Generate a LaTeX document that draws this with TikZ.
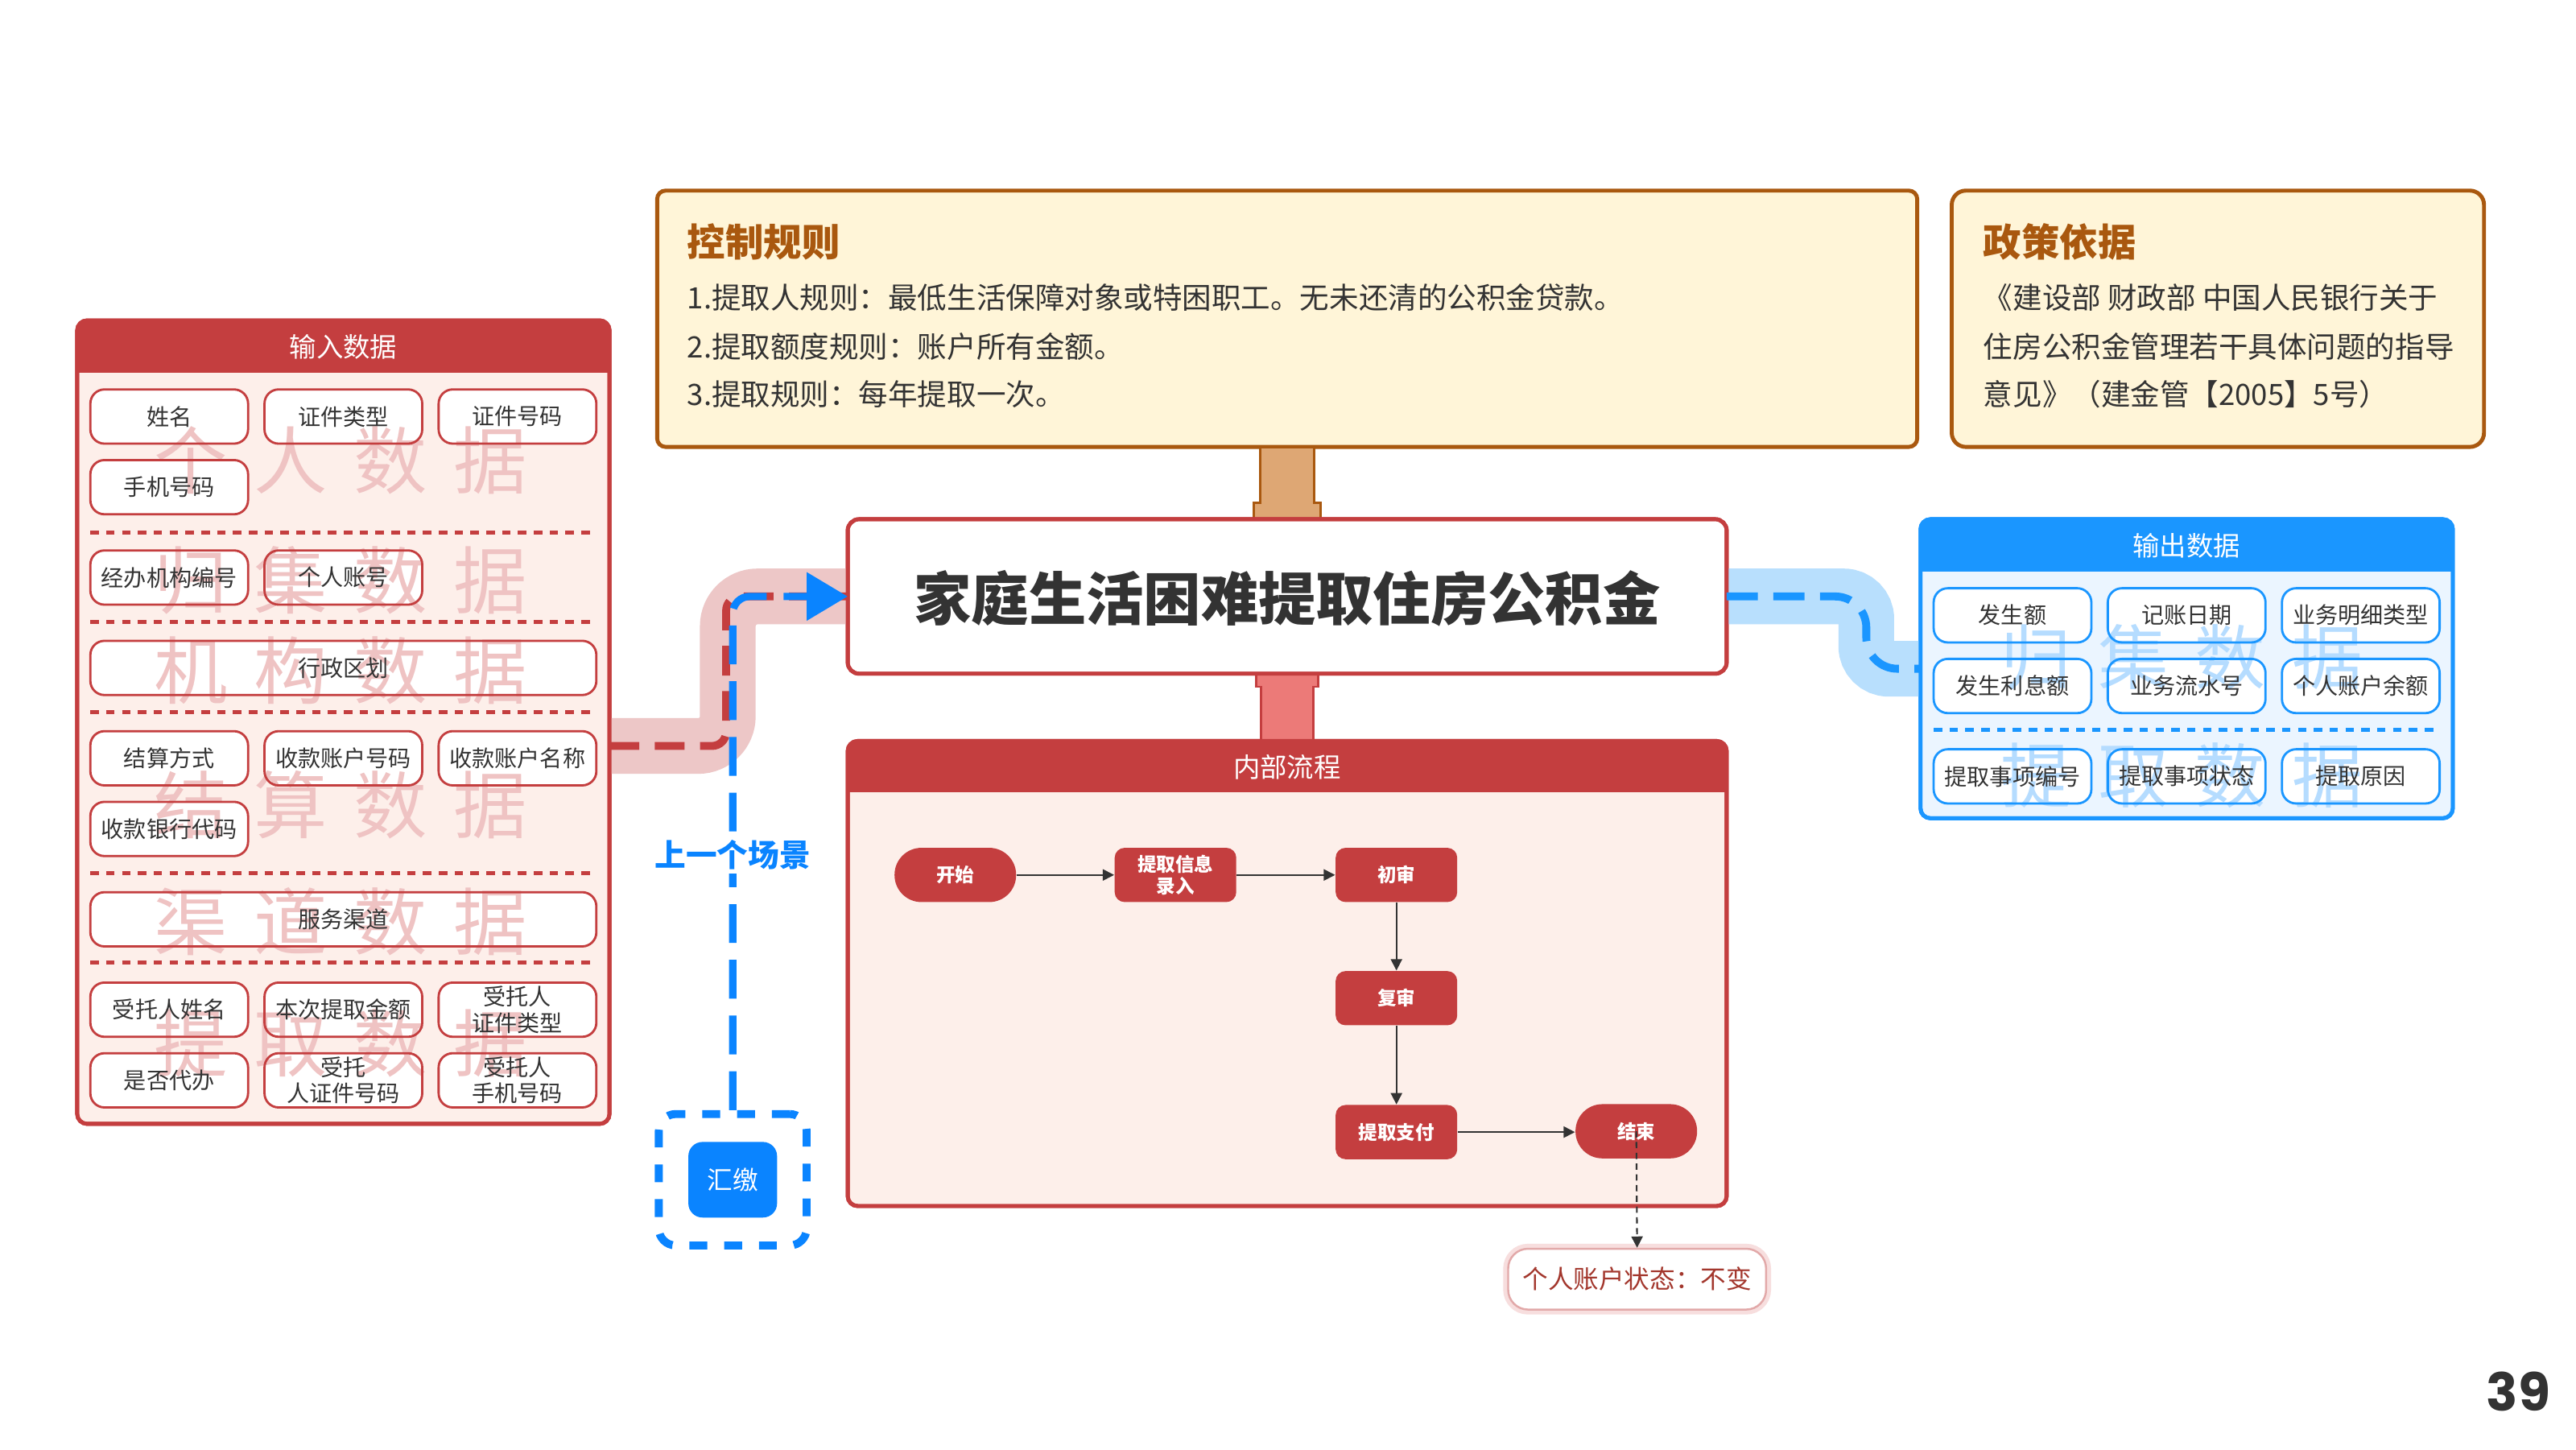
\documentclass[tikz,border=0pt]{standalone}
\usepackage{fontspec}
\setmainfont{Noto Sans CJK SC}
\newfontfamily\numfont{Poppins}
\usetikzlibrary{arrows.meta,calc}
\definecolor{myred}{HTML}{C43E3F}
\definecolor{redbody}{HTML}{FDEFEA}
\definecolor{redband}{HTML}{EDC7C7}
\definecolor{redwm}{HTML}{EFC3C3}
\definecolor{salmon}{HTML}{EC7A78}
\definecolor{mybrown}{HTML}{A9580F}
\definecolor{cream}{HTML}{FFF5D8}
\definecolor{mytan}{HTML}{DEA774}
\definecolor{bluehead}{HTML}{1A96FF}
\definecolor{bluebody}{HTML}{EBF5FF}
\definecolor{blueband}{HTML}{B8DFFD}
\definecolor{bluewm}{HTML}{B5DCFF}
\definecolor{bluedeep}{HTML}{0A84FF}
\definecolor{txt}{HTML}{333333}
\definecolor{notered}{HTML}{A3372D}
\definecolor{noteline}{HTML}{E2A9A9}
\definecolor{noteglow}{HTML}{F7DEDE}
\newcommand\pxu{0.02041cm}
\newcommand\bxfill[5]{\fill[white,rounded corners=5pt] ({#2-#4/2},{#3-16.5}) rectangle ({#2+#4/2},{#3+16.5});}
\newcommand\bxred[5]{\node[ibox,draw=myred,minimum width=#4*\pxu] (#1) at (#2,#3) {#5};}
\newcommand\bxblue[5]{\node[ibox,draw=bluehead,minimum width=#4*\pxu] (#1) at (#2,#3) {#5};}
\newcommand\inlist{%
\bx{i1}{103}{253.5}{96}{姓名}%
\bx{i2}{209}{253.5}{96}{证件类型}%
\bx{i3}{315}{253.5}{96}{证件号码}%
\bx{i4}{103}{296.5}{96}{手机号码}%
\bx{i5}{103}{351.5}{96}{经办机构编号}%
\bx{i6}{209}{351.5}{96}{个人账号}%
\bx{i7}{209}{406.5}{308}{行政区划}%
\bx{i8}{103}{461.5}{96}{结算方式}%
\bx{i9}{209}{461.5}{96}{收款账户号码}%
\bx{i10}{315}{461.5}{96}{收款账户名称}%
\bx{i11}{103}{504.5}{96}{收款银行代码}%
\bx{i12}{209}{559.5}{308}{服务渠道}%
\bx{i13}{103}{614.5}{96}{受托人姓名}%
\bx{i14}{209}{614.5}{96}{本次提取金额}%
\bx{i15}{315}{614.5}{96}{受托人\\证件类型}%
\bx{i16}{103}{657.5}{96}{是否代办}%
\bx{i17}{209}{657.5}{96}{受托\\人证件号码}%
\bx{i18}{315}{657.5}{96}{受托人\\手机号码}%
}
\newcommand\outlist{%
\bx{o1}{1225}{374.5}{96}{发生额}%
\bx{o2}{1331}{374.5}{96}{记账日期}%
\bx{o3}{1437}{374.5}{96}{业务明细类型}%
\bx{o4}{1225}{417.5}{96}{发生利息额}%
\bx{o5}{1331}{417.5}{96}{业务流水号}%
\bx{o6}{1437}{417.5}{96}{个人账户余额}%
\bx{o7}{1225}{472.5}{96}{提取事项编号}%
\bx{o8}{1331}{472.5}{96}{提取事项状态}%
\bx{o9}{1437}{472.5}{96}{提取原因}%
}
\newcommand\wmsp{\hspace{9.3pt}}
\begin{document}
\begin{tikzpicture}[x=0.02041cm, y=-0.02041cm,
  outer/.style={rectangle, rounded corners=3.5pt, line width=1.4pt, inner sep=0pt, outer sep=0pt},
  ibox/.style={rectangle, rounded corners=5pt, line width=0.8pt, minimum height=33*\pxu, inner sep=1pt, align=center, font=\fontsize{8}{9.3}\selectfont, text=txt},
  sepline/.style={line width=1.4pt, dash pattern=on 3pt off 2.6pt},
  wmleft/.style={text=redwm, font=\fontsize{26}{26}\selectfont, inner sep=0pt},
  wmright/.style={text=bluewm, font=\fontsize{25}{25}\selectfont, inner sep=0pt},
  headtxt/.style={text=white, font=\fontsize{9.5}{10}\selectfont, inner sep=0pt},
  ruletxt/.style={anchor=west, inner sep=0pt, text=txt, font=\fontsize{10.4}{11}\selectfont},
  ruletitle/.style={anchor=west, inner sep=0pt, text=mybrown, font=\bfseries\fontsize{13.5}{14}\selectfont},
  flow/.style={rectangle, fill=myred, text=white, rounded corners=3.5pt, minimum width=74*\pxu, minimum height=33*\pxu, inner sep=0pt, align=center, font=\bfseries\fontsize{6.7}{7.6}\selectfont},
  stadium/.style={flow, rounded corners=9.5pt},
  farrow/.style={-{Triangle[length=4pt,width=4pt]}, line width=0.5pt, draw=txt},
]
\useasboundingbox (0,0) rectangle (1568,882);
\fill[white] (0,0) rectangle (1568,882);

% ---------- main nodes (shapes) ----------
\node[outer, fill=cream, draw=mybrown, minimum width=767*\pxu, minimum height=156*\pxu, rounded corners=3pt] (ctrl) at (783.5,194) {};
\node[outer, fill=cream, draw=mybrown, minimum width=324*\pxu, minimum height=156*\pxu, rounded corners=5pt] (pol) at (1350,194) {};

% connectors to title box
\draw[fill=mytan, draw=mybrown, line width=0.8pt]
  ($(ctrl.south)+(-16.5,0)$) -- ($(ctrl.south)+(16.5,0)$) -- ($(ctrl.south)+(16.5,34)$) -- ($(ctrl.south)+(20.5,34)$)
  -- ($(ctrl.south)+(20.5,44)$) -- ($(ctrl.south)+(-20.5,44)$) -- ($(ctrl.south)+(-20.5,34)$) -- ($(ctrl.south)+(-16.5,34)$) -- cycle;

% bands
\coordinate (lstart) at (371,454);
\node[outer, fill=white, draw=myred, minimum width=535*\pxu, minimum height=94*\pxu, rounded corners=4pt] (title) at (783.5,363) {};
\node[outer, fill=redbody, draw=myred, minimum width=535*\pxu, minimum height=283*\pxu] (proc) at (783.5,592.5) {};
\node[outer, fill=redbody, draw=myred, minimum width=324*\pxu, minimum height=489*\pxu] (inb) at (209,439.5) {};
\node[outer, fill=bluebody, draw=bluehead, minimum width=324*\pxu, minimum height=182*\pxu] (outb) at (1331,407) {};

\draw[redband, line width=19.7pt, rounded corners=10.5pt] (lstart) -- (443,454) -- (443,363) -- (title.west);
\draw[blueband, line width=19.7pt, rounded corners=8pt] (title.east) -- (1136,363) -- (1136,407) -- (outb.west);

% salmon connector
\draw[fill=salmon, draw=myred, line width=0.8pt]
  ($(title.south)+(-19,0)$) -- ($(title.south)+(19,0)$) -- ($(title.south)+(19,8)$) -- ($(title.south)+(16,8)$)
  -- ($(proc.north)+(16,0)$) -- ($(proc.north)+(-16,0)$) -- ($(title.south)+(-16,8)$) -- ($(title.south)+(-19,8)$) -- cycle;

% redraw boxes over band ends
\draw[myred, line width=1.4pt, rounded corners=4pt] (title.north west) rectangle (title.south east);
\node[font=\bfseries\fontsize{20.3}{21}\selectfont, text=txt, inner sep=0pt] (titletxt) at (783.5,364) {家庭生活困难提取住房公积金};

% headers
\begin{scope}
\clip[rounded corners=3.5pt] (inb.north west) rectangle (inb.south east);
\fill[myred] (inb.north west) rectangle (371,227);
\end{scope}
\begin{scope}
\clip[rounded corners=3.5pt] (proc.north west) rectangle (proc.south east);
\fill[myred] (proc.north west) rectangle (1051,482);
\end{scope}
\begin{scope}
\clip[rounded corners=3.5pt] (outb.north west) rectangle (outb.south east);
\fill[bluehead] (outb.north west) rectangle (1493,348);
\end{scope}
\draw[myred, line width=1.4pt, rounded corners=3.5pt] (inb.north west) rectangle (inb.south east);
\draw[myred, line width=1.4pt, rounded corners=3.5pt] (proc.north west) rectangle (proc.south east);
\draw[bluehead, line width=1.4pt, rounded corners=3.5pt] (outb.north west) rectangle (outb.south east);
\node[headtxt] (inh) at (209,211) {输入数据};
\node[headtxt] (proch) at (783.5,467) {内部流程};
\node[headtxt] (outh) at (1331,332) {输出数据};

% ---------- input data ----------
\let\bx\bxfill \inlist
\node[wmleft] (w1) at (207.5,280) {个\wmsp 人\wmsp 数\wmsp 据};
\node[wmleft] (w2) at (207.5,353) {归\wmsp 集\wmsp 数\wmsp 据};
\node[wmleft] (w3) at (207.5,408) {机\wmsp 构\wmsp 数\wmsp 据};
\node[wmleft] (w4) at (207.5,490) {结\wmsp 算\wmsp 数\wmsp 据};
\node[wmleft] (w5) at (207.5,561) {渠\wmsp 道\wmsp 数\wmsp 据};
\node[wmleft] (w6) at (207.5,635) {提\wmsp 取\wmsp 数\wmsp 据};
\let\bx\bxred \inlist
\foreach \yy in {324,378.5,433.5,531.5,586} \draw[sepline, myred] (55,\yy) -- (363,\yy);

% ---------- output data ----------
\let\bx\bxfill \outlist
\node[wmright] (w7) at (1328,400) {归\wmsp 集\wmsp 数\wmsp 据};
\node[wmright] (w8) at (1328,472) {提\wmsp 取\wmsp 数\wmsp 据};
\let\bx\bxblue \outlist
\draw[sepline, bluehead] (1177,444) -- (1485,444);

% ---------- rules & policy text ----------
\node[ruletitle] (ct) at (418,147) {控制规则};
\node[ruletxt] (c1) at (418,181) {1.提取人规则：最低生活保障对象或特困职工。无未还清的公积金贷款。};
\node[ruletxt] (c2) at (418,211) {2.提取额度规则：账户所有金额。};
\node[ruletxt] (c3) at (418,240) {3.提取规则：每年提取一次。};
\node[ruletitle] (pt) at (1207,147) {政策依据};
\node[ruletxt] (p1) at (1207,181) {《建设部 财政部 中国人民银行关于};
\node[ruletxt] (p2) at (1207,211) {住房公积金管理若干具体问题的指导};
\node[ruletxt] (p3) at (1207,240) {意见》（建金管【2005】5号）};

% ---------- internal flow ----------
\node[stadium] (fs) at (581.5,532.5) {开始};
\node[flow] (f1) at (715.5,532.5) {提取信息\\录入};
\node[flow] (f2) at (850,532.5) {初审};
\node[flow] (f3) at (850,607.5) {复审};
\node[flow] (f4) at (850,689) {提取支付};
\node[stadium] (fe) at (996,688.5) {结束};
\draw[farrow] (fs) -- (f1);
\draw[farrow] (f1) -- (f2);
\draw[farrow] (f2) -- (f3);
\draw[farrow] (f3) -- (f4);
\draw[farrow] (f4.east) -- (f4.east -| fe.west);

\node[rectangle, rounded corners=7pt, fill=white, draw=noteline, line width=0.7pt,
  preaction={draw=noteglow, line width=3.5pt},
  minimum width=157*\pxu, minimum height=37*\pxu, inner sep=0pt, text=notered,
  font=\fontsize{9}{10}\selectfont] (note) at (996.5,778.5) {个人账户状态：不变};
\draw[-{Triangle[length=4pt,width=4pt]}, txt, line width=0.6pt, dash pattern=on 2.2pt off 1.6pt] (fe.center) -- (note.north);

% ---------- dashed flows ----------
\node[rectangle, draw=bluedeep, line width=2.8pt, dash pattern=on 6.3pt off 6pt, rounded corners=6pt,
  minimum width=90*\pxu, minimum height=80*\pxu, inner sep=0pt] (hjg) at (446,718) {};
\node[rectangle, fill=bluedeep, rounded corners=5pt, minimum width=54*\pxu, minimum height=46*\pxu,
  inner sep=0pt, text=white, font=\fontsize{9}{10}\selectfont] (hj) at (446,718) {汇缴};

\draw[myred, line width=2.8pt, dash pattern=on 10.5pt off 5.5pt, rounded corners=5pt] (lstart) -- (442,454) -- (442,363) -- (title.west);
\draw[bluedeep, line width=2.6pt, dash pattern=on 13.7pt off 6pt, rounded corners=6pt,
  -{Triangle[length=14.5pt,width=16.5pt]}] (hjg.north) -- (446,363) -- (title.west);
\draw[bluehead, line width=2.8pt, dash pattern=on 11pt off 5.5pt, rounded corners=11pt] (title.east) -- (1136,363) -- (1136,407) -- (outb.west);
\node[fill=white, inner sep=1.5pt, text=bluedeep, font=\bfseries\fontsize{11}{12}\selectfont] (prev) at (446,520) {上一个场景};

% page number
\node[text=txt, inner sep=0pt, font=\numfont\bfseries\fontsize{18.5}{20}\selectfont] (pg) at (1533,847) {39};
\end{tikzpicture}
\end{document}
